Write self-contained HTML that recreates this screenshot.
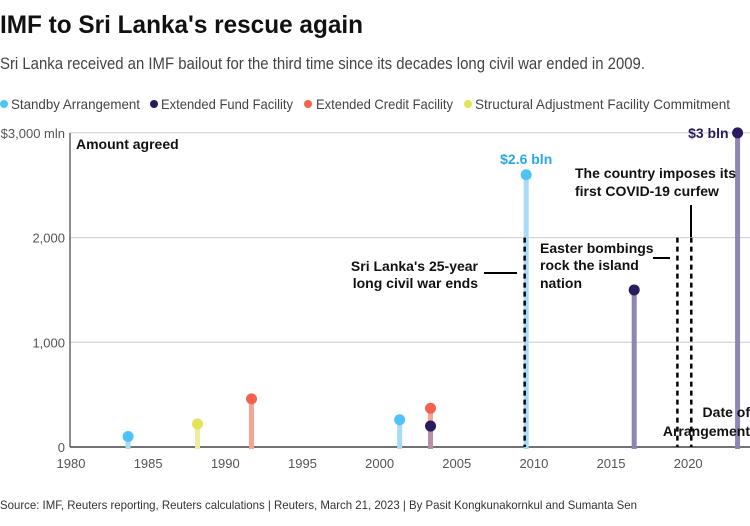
<!DOCTYPE html>
<html><head><meta charset="utf-8"><style>
body{margin:0;background:#fff;width:750px;height:521px;overflow:hidden;font-family:"Liberation Sans",sans-serif;}
svg text{font-family:"Liberation Sans",sans-serif;}
</style></head><body>
<svg id="chart" width="750" height="521" viewBox="0 0 750 521">
<text x="0" y="33" font-size="25" font-weight="bold" fill="#111" textLength="363" lengthAdjust="spacingAndGlyphs">IMF to Sri Lanka's rescue again</text>
<text x="0" y="69" font-size="16.5" fill="#444" textLength="645" lengthAdjust="spacingAndGlyphs">Sri Lanka received an IMF bailout for the third time since its decades long civil war ended in 2009.</text>
<g font-size="14" fill="#444">
<g><circle cx="4" cy="104" r="4" fill="#4fc3f7"/><text x="11" y="109" textLength="129" lengthAdjust="spacingAndGlyphs">Standby Arrangement</text></g>
<g><circle cx="154" cy="104" r="4" fill="#2a1a5e"/><text x="161" y="109" textLength="132" lengthAdjust="spacingAndGlyphs">Extended Fund Facility</text></g>
<g><circle cx="308" cy="104" r="4" fill="#f4614d"/><text x="316" y="109" textLength="137" lengthAdjust="spacingAndGlyphs">Extended Credit Facility</text></g>
<g><circle cx="468" cy="104" r="4" fill="#e3e35a"/><text x="475" y="109" textLength="255" lengthAdjust="spacingAndGlyphs">Structural Adjustment Facility Commitment</text></g>
</g>
<g id="grid"></g>
<g id="marks"></g>
<g id="annot"></g>
<text x="0" y="509" font-size="12" fill="#333" textLength="637" lengthAdjust="spacingAndGlyphs">Source: IMF, Reuters reporting, Reuters calculations | Reuters, March 21, 2023 | By Pasit Kongkunakornkul and Sumanta Sen</text>
</svg>
<script>
const yTicks=[0,1000,2000,3000];
const yTickLabels=["0","1,000","2,000","$3,000 mln"];
const xTicks=[1980,1985,1990,1995,2000,2005,2010,2015,2020];
const years=[1983.7,1988.2,1991.7,2001.3,2003.3,2003.3,2009.5,2016.5,2023.2];
const amounts=[100,220,460,260,370,200,2600,1500,3000];
const types=["SBA","SAF","ECF","SBA","ECF","EFF","SBA","EFF","EFF"];
const eventYears=[2009.4,2019.3,2020.2];
const NS="http://www.w3.org/2000/svg";
const X=y=>71+(y-1980)*15.43;
const Y=v=>447-v*0.1047;
const col={SBA:["#4fc3f7","#a6dcf6"],EFF:["#2a1a5e","#8f86b5"],ECF:["#f4614d","#f6a496"],SAF:["#e3e35a","#eeee9e"]};
function mk(tag,attrs,parent){const e=document.createElementNS(NS,tag);for(const k in attrs)e.setAttribute(k,attrs[k]);parent.appendChild(e);return e;}
const grid=document.getElementById('grid'),marks=document.getElementById('marks'),an=document.getElementById('annot');
yTicks.forEach((t,i)=>{
 const l=mk('line',{x1:70,x2:750,y1:Y(t),y2:Y(t),stroke:i==0?'#444':'#ccc','stroke-width':i==0?1.5:1},grid);
 
 
 const tx=mk('text',{x:65,y:Y(t)+5,'text-anchor':'end','font-size':13,fill:'#555'},grid);
 tx.textContent=yTickLabels[i];
 
 
});
const ax=mk('line',{x1:70,x2:70,y1:Y(3000),y2:Y(0),stroke:'#444','stroke-width':1.2},grid);


xTicks.forEach(t=>{
 const tx=mk('text',{x:X(t),y:468,'text-anchor':'middle','font-size':13,fill:'#555'},grid);
 tx.textContent=t;
 
 
});
const at=mk('text',{x:76,y:149,'font-size':14,'font-weight':'bold',fill:'#111'},grid);
at.textContent='Amount agreed';


eventYears.forEach(y=>{
 const l=mk('line',{x1:X(y),x2:X(y),y1:Y(2000),y2:Y(0),stroke:'#000','stroke-width':2.5,'stroke-dasharray':'5,4'},an);
 
 
});
years.forEach((y,i)=>{
 const c=col[types[i]];
 const s=mk('line',{x1:X(y),x2:X(y),y1:Y(amounts[i]),y2:Y(0)+2,stroke:c[1],'stroke-width':5,opacity:types[i]=='EFF'&&amounts[i]<1000?0.6:1},marks);
 
 
 const d=mk('circle',{cx:X(y),cy:Y(amounts[i]),r:5.5,fill:c[0]},marks);
 
 
});
function txt(x,y,s,attrs,name){const t=mk('text',Object.assign({x:x,y:y,'font-size':14,'font-weight':'bold',fill:'#111'},attrs||{}),an);t.textContent=s;return t;}
txt(X(2009.5),164,'$2.6 bln',{'text-anchor':'middle',fill:'#29a8e8'},'label-2009');
txt(X(2023.2)-9,138,'$3 bln',{'text-anchor':'end',fill:'#2a1a5e'},'label-2023');
txt(478,271,"Sri Lanka's 25-year",{'text-anchor':'end'},'annotation-war');
txt(478,288,'long civil war ends',{'text-anchor':'end'},'annotation-war');
txt(540,253,'Easter bombings',{},'annotation-easter');
txt(540,270,'rock the island',{},'annotation-easter');
txt(540,288,'nation',{},'annotation-easter');
txt(575,178,'The country imposes its',{},'annotation-covid');
txt(575,196,'first COVID-19 curfew',{},'annotation-covid');
txt(750,417,'Date of',{'text-anchor':'end'},'annotation-date');
txt(750,436,'Arrangement',{'text-anchor':'end'},'annotation-date');
[[484,517,273,273],[653,670,258,258],[691,691,205,237]].forEach(p=>{
 const l=mk('line',{x1:p[0],x2:p[1],y1:p[2],y2:p[3],stroke:'#000','stroke-width':2},an);
 
 
});
</script>
</body></html>
